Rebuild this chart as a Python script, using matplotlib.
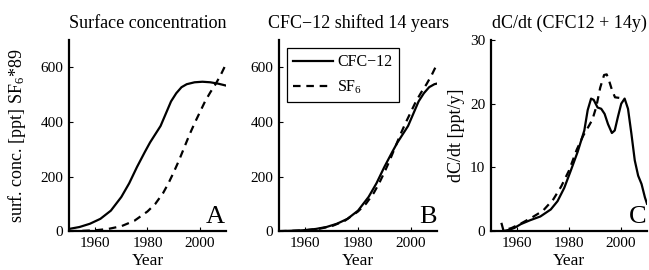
import matplotlib
matplotlib.use("Agg")
import matplotlib.pyplot as plt

# CFC-12 surface concentration [ppt] (starts before 1950 so the shifted curve covers panel B)
cfc12_years = [1936, 1940, 1945, 1950, 1954, 1958, 1962, 1966, 1970, 1973, 1976, 1979,
               1981, 1983, 1985, 1987, 1989, 1991, 1993, 1995, 1998, 2001, 2004, 2007, 2010]
cfc12_conc = [0, 1, 3, 8, 15, 27, 45, 75, 125, 175, 235, 290,
              325, 355, 385, 430, 475, 505, 527, 538, 545, 547, 545, 540, 533]

# SF6 surface concentration scaled by 89 [ppt]
sf6_years = [1950, 1955, 1960, 1965, 1970, 1975, 1980, 1983, 1986, 1988, 1990, 1992,
             1994, 1996, 1998, 2000, 2002, 2004, 2006, 2008, 2010]
sf6_conc = [0, 1, 3, 8, 18, 38, 72, 100, 140, 175, 215, 258,
            305, 352, 395, 435, 475, 508, 538, 572, 612]

shift_years = 14

# growth rates dC/dt [ppt/y]
cfc12_rate_years = [1954.5, 1957, 1959, 1961.5, 1965, 1969, 1973, 1975.6, 1978.2, 1980.7,
                    1983.3, 1985.9, 1987.2, 1988.5, 1989.5, 1991, 1992.4, 1993.7, 1995,
                    1996.5, 1997.6, 1998.8, 2000.1, 2001.4, 2002.7, 2004, 2005.3, 2006.6,
                    2007.9, 2009.2, 2010]
cfc12_rate = [0.0, 0.2, 0.5, 1.1, 1.7, 2.3, 3.4, 4.7, 6.8, 9.5,
              12.4, 15.8, 19.0, 20.8, 20.6, 19.4, 19.2, 18.4, 16.8,
              15.4, 15.8, 17.9, 20.0, 20.8, 19.2, 15.3, 11.1, 8.7,
              7.4, 5.3, 4.3]

sf6_rate_years = [1954.0, 1954.8, 1958, 1962, 1966, 1970, 1974, 1977, 1980, 1983,
                  1985.5, 1987.5, 1989, 1990.5, 1992, 1993.5, 1994.5, 1995.5, 1996.5,
                  1997.7, 1999.5, 2001.5]
sf6_rate = [1.3, 0.1, 0.5, 1.3, 2.2, 3.2, 5.0, 7.0, 9.5, 12.8,
            15.0, 16.4, 17.5, 19.5, 22.5, 24.5, 24.6, 23.5, 22.2,
            21.0, 20.9, 21.0]

plt.rcParams['font.family'] = ['Liberation Serif', 'DejaVu Serif']
plt.rcParams['mathtext.fontset'] = 'custom'
plt.rcParams['mathtext.rm'] = 'Liberation Serif'
plt.rcParams['mathtext.it'] = 'Liberation Serif:italic'
plt.rcParams['font.size'] = 13

LW = 1.6
DASH = (0, (3.4, 2.6))


def style_axes(ax, ymax, yticks, letter):
    ax.set_xlim(1950, 2010)
    ax.set_ylim(0, ymax)
    ax.set_xticks([1960, 1980, 2000])
    ax.set_yticks(yticks)
    for side in ['top', 'right']:
        ax.spines[side].set_visible(False)
    for side in ['left', 'bottom']:
        ax.spines[side].set_linewidth(LW)
    ax.tick_params(direction='in', length=3, width=0.8, pad=4, labelsize=11)
    ax.set_xlabel('Year', fontsize=12.5)
    ax.xaxis.set_label_coords(0.5, -0.115)
    ax.text(0.995, 0.04, letter, transform=ax.transAxes, ha='right', va='baseline',
            fontsize=19)


fig = plt.figure(figsize=(6.49, 2.70), dpi=100)
bottom, height = 0.144, 0.708
axA = fig.add_axes([0.1063, bottom, 0.2419, height])
axB = fig.add_axes([0.4299, bottom, 0.2435, height])
axC = fig.add_axes([0.7565, bottom, 0.2404, height])

# Panel A: surface concentrations
axA.plot(cfc12_years, cfc12_conc, color='black', lw=LW)
axA.plot(sf6_years, sf6_conc, color='black', lw=LW, linestyle=DASH)
style_axes(axA, 700, [0, 200, 400, 600], 'A')
axA.set_title('Surface concentration', fontsize=13, pad=8.5)
axA.set_ylabel('surf. conc. [ppt] SF$_6$*89', fontsize=13)
axA.yaxis.set_label_coords(-0.262, 0.5)

# Panel B: CFC-12 shifted in time
axB.plot([y + shift_years for y in cfc12_years], cfc12_conc, color='black', lw=LW,
         label='CFC\u221212')
axB.plot(sf6_years, sf6_conc, color='black', lw=LW, linestyle=DASH, label='SF$_6$')
style_axes(axB, 700, [0, 200, 400, 600], 'B')
axB.set_title('CFC\u221212 shifted 14 years', fontsize=13, pad=8.5)
leg = axB.legend(loc='upper left', fontsize=11.5, handlelength=2.5, handletextpad=0.25,
                 fancybox=False, framealpha=1, edgecolor='black', borderaxespad=0.5)
leg.get_frame().set_linewidth(0.9)

# Panel C: growth rates
axC.plot(cfc12_rate_years, cfc12_rate, color='black', lw=LW)
axC.plot(sf6_rate_years, sf6_rate, color='black', lw=LW, linestyle=DASH)
style_axes(axC, 30, [0, 10, 20, 30], 'C')
axC.set_title('dC/dt (CFC12 + 14y)', fontsize=13, pad=8.5)
axC.set_ylabel('dC/dt [ppt/y]', fontsize=13)
axC.yaxis.set_label_coords(-0.167, 0.5)

plt.savefig('out.png', dpi=100)
